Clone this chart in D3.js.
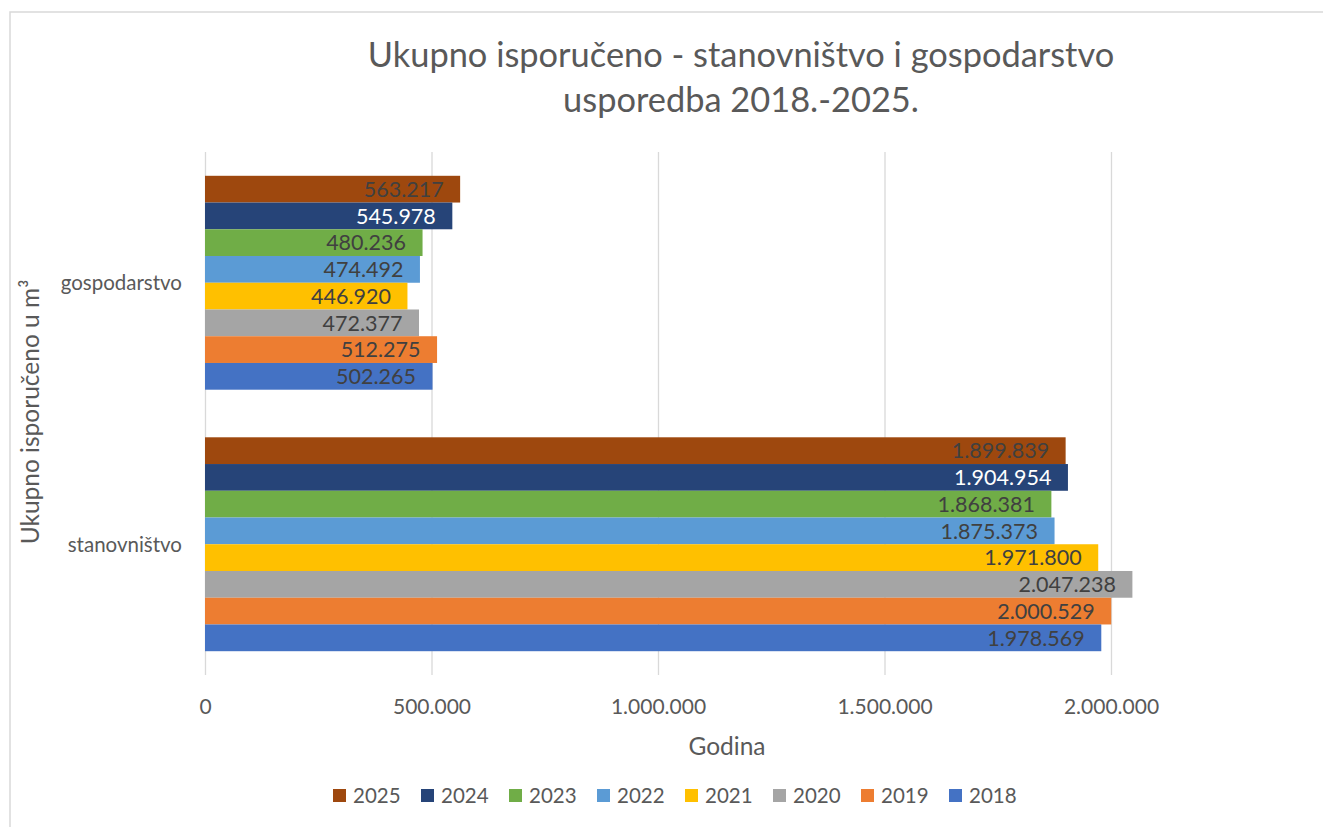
<!DOCTYPE html>
<html>
<head>
<meta charset="utf-8">
<script src="https://cdn.jsdelivr.net/npm/d3@7"></script>
<style>
  html, body { margin: 0; padding: 0; background: #fff; }
  #container { width: 1323px; height: 827px; }
  text { font-family: Lato, "Open Sans", sans-serif; fill: #595959; }
</style>
</head>
<body>
<div id="container"></div>
<script>
// DATA
const categories = ['gospodarstvo', 'stanovništvo']
const years = ['2025', '2024', '2023', '2022', '2021', '2020', '2019', '2018']
const gospodarstvo = [563217, 545978, 480236, 474492, 446920, 472377, 512275, 502265]
const stanovnistvo = [1899839, 1904954, 1868381, 1875373, 1971800, 2047238, 2000529, 1978569]
const xTicks = [0, 500000, 1000000, 1500000, 2000000]

const yearColors = ['#9E480E', '#264478', '#70AD47', '#5B9BD5', '#FFC000', '#A5A5A5', '#ED7D31', '#4472C4']

const w = 1323
const h = 827

const margin = {
  left: 205,
  top: 152,
  bottom: 675
}

const hr = d3.formatLocale({ decimal: ',', thousands: '.', grouping: [3], currency: ['', ''] })
const fmt = hr.format(',d')

const rows = categories.map((c, i) => ({
  category: c,
  values: years.map((y, j) => ({ year: y, value: [gospodarstvo, stanovnistvo][i][j] }))
}))

//SCALES
const x = d3.scaleLinear()
  .domain([0, 2500000])
  .range([margin.left, margin.left + 5 * 226.5])

const y0 = d3.scaleBand()
  .domain(categories)
  .range([margin.top, margin.bottom])
  .paddingInner(0.182)
  .paddingOuter(0.091)

const y1 = d3.scaleBand()
  .domain(years)
  .range([0, y0.bandwidth()])

const color = d3.scaleOrdinal()
  .domain(years)
  .range(yearColors)

const svg = d3.select('#container')
  .append('svg')
  .attr('width', w)
  .attr('height', h)

//FRAME
svg.append('rect')
  .attr('x', 10)
  .attr('y', 12)
  .attr('width', 1400)
  .attr('height', 900)
  .attr('fill', '#fff')
  .attr('stroke', '#d9d9d9')
  .attr('stroke-width', 1.5)

//TITLE
const title = svg.append('text')
  .attr('text-anchor', 'middle')
  .style('font-size', '34.4px')
title.append('tspan').attr('x', 741).attr('y', 67).text('Ukupno isporučeno - stanovništvo i gospodarstvo')
title.append('tspan').attr('x', 741).attr('y', 112).text('usporedba 2018.-2025.')

//GRID + X AXIS
const xAxis = svg.append('g')
  .attr('transform', `translate(0,${margin.bottom})`)
  .call(d3.axisBottom(x)
    .tickValues(xTicks)
    .tickSize(-(margin.bottom - margin.top))
    .tickPadding(0)
    .tickFormat(d => fmt(d)))

xAxis.select('.domain').remove()
xAxis.selectAll('.tick line')
  .attr('stroke', '#d9d9d9')
  .attr('stroke-width', 1.3)
xAxis.selectAll('.tick text')
  .attr('y', 39)
  .attr('dy', null)
  .style('font-size', '21px')
  .attr('fill', '#595959')

//BARS
const groups = svg.selectAll('g.category')
  .data(rows)
  .enter()
  .append('g')
  .attr('class', 'category')
  .attr('transform', d => `translate(0,${y0(d.category)})`)

groups.selectAll('rect')
  .data(d => d.values)
  .enter()
  .append('rect')
  .attr('x', x(0))
  .attr('y', d => y1(d.year))
  .attr('width', d => x(d.value) - x(0))
  .attr('height', y1.bandwidth())
  .attr('fill', d => color(d.year))

//LABELS
groups.selectAll('text.barLabel')
  .data(d => d.values)
  .enter()
  .append('text')
  .attr('class', 'barLabel')
  .attr('x', d => x(d.value) - 16.5)
  .attr('y', d => y1(d.year) + y1.bandwidth() / 2)
  .attr('dy', '0.36em')
  .attr('text-anchor', 'end')
  .style('font-size', '21.5px')
  .style('fill', d => d.year === '2024' ? '#ffffff' : '#404040')
  .text(d => fmt(d.value))

//CATEGORY LABELS
svg.selectAll('text.catLabel')
  .data(categories)
  .enter()
  .append('text')
  .attr('class', 'catLabel')
  .attr('x', 182)
  .attr('y', d => y0(d) + y0.bandwidth() / 2)
  .attr('dy', '0.36em')
  .attr('text-anchor', 'end')
  .style('font-size', '20.5px')
  .text(d => d)

//AXIS TITLES
svg.append('text')
  .attr('x', 727)
  .attr('y', 755)
  .attr('text-anchor', 'middle')
  .style('font-size', '24.5px')
  .text('Godina')

svg.append('text')
  .attr('transform', 'translate(39,412) rotate(-90)')
  .attr('text-anchor', 'middle')
  .style('font-size', '24.5px')
  .text('Ukupno isporučeno u m³')

//LEGEND
const legend = svg.selectAll('g.legend')
  .data(years)
  .enter()
  .append('g')
  .attr('class', 'legend')
  .attr('transform', (d, i) => `translate(${333 + i * 88},789)`)

legend.append('rect')
  .attr('width', 13)
  .attr('height', 13)
  .attr('fill', d => color(d))

legend.append('text')
  .attr('x', 20)
  .attr('y', 6.5)
  .attr('dy', '0.36em')
  .style('font-size', '20.5px')
  .text(d => d)
</script>
</body>
</html>
